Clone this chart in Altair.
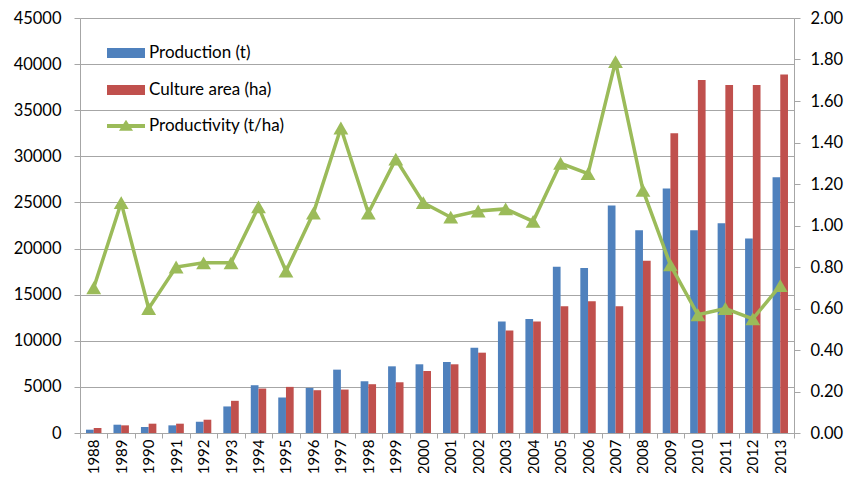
import altair as alt
import pandas as pd

years = [str(y) for y in range(1988, 2014)]
production = [360, 900, 650, 830, 1220, 2880, 5180, 3850, 4890, 6870, 5610, 7230, 7450,
              7700, 9250, 12090, 12370, 18020, 17900, 24680, 21980, 26510, 21980, 22740,
              21080, 27730]
area = [540, 830, 1010, 1010, 1440, 3490, 4820, 5000, 4640, 4710, 5290, 5500, 6720,
        7450, 8710, 11110, 12090, 13740, 14280, 13740, 18670, 32510, 38270, 37730,
        37730, 38880]
productivity = [0.70, 1.11, 0.60, 0.80, 0.82, 0.82, 1.09, 0.78, 1.06, 1.47, 1.06, 1.32,
                1.11, 1.04, 1.07, 1.08, 1.02, 1.30, 1.25, 1.79, 1.17, 0.81, 0.57, 0.60,
                0.55, 0.71]
bar_series = ["Production (t)", "Culture area (ha)"]
line_series = "Productivity (t/ha)"
left_ticks = list(range(0, 45001, 5000))
right_ticks = [round(i * 0.2, 2) for i in range(11)]

bars_df = pd.DataFrame(
    [{"year": y, "series": bar_series[0], "value": v} for y, v in zip(years, production)]
    + [{"year": y, "series": bar_series[1], "value": v} for y, v in zip(years, area)]
)
line_df = pd.DataFrame({"year": years, "value": productivity,
                        "series": [line_series] * len(years)})

FONT = "Lato"
GRID = "#A6A6A6"
BLUE, RED, GREEN = "#4F81BD", "#C0504D", "#9BBB59"

rect_path = "M-1,-0.263H1V0.263H-1Z"
line_path = "M-1,-0.1H1V0.1H-1Z M-0.37,0.25L0,-0.33L0.37,0.25Z"

x_enc = alt.X("year:N", sort=years, title=None,
              scale=alt.Scale(paddingInner=0, paddingOuter=0),
              axis=alt.Axis(labelAngle=270, labelFontSize=15, labelFont=FONT,
                            labelColor="#000000", tickBand="extent", tickSize=5,
                            tickColor=GRID, domainColor=GRID, labelPadding=1,
                            grid=False))

bars = alt.Chart(bars_df).mark_bar().encode(
    x=x_enc,
    xOffset=alt.XOffset("series:N", sort=bar_series,
                        scale=alt.Scale(paddingInner=0, paddingOuter=0.78)),
    y=alt.Y("value:Q", title=None,
            scale=alt.Scale(domain=[0, 45000], nice=False),
            axis=alt.Axis(orient="left", values=left_ticks, format="d",
                          labelFontSize=16.5, labelFont=FONT, labelColor="#000000",
                          grid=True, gridColor=GRID, tickColor=GRID, domainColor=GRID,
                          tickSize=6, labelPadding=13)),
    color=alt.Color("series:N", sort=bar_series,
                    scale=alt.Scale(domain=bar_series, range=[BLUE, RED]),
                    legend=alt.Legend(orient="none", legendX=27, legendY=16, title=None,
                                      symbolType=rect_path, symbolSize=1444,
                                      symbolStrokeWidth=0, labelFontSize=17,
                                      labelFont=FONT, labelColor="#000000",
                                      rowPadding=10, padding=0, labelOffset=4)),
)

right_axis = alt.Axis(orient="right", values=right_ticks, format=".2f",
                      labelFontSize=16.5, labelFont=FONT, labelColor="#000000",
                      grid=False, tickColor=GRID, domainColor=GRID, tickSize=6,
                      labelPadding=10)
y2 = alt.Y("value:Q", title=None, scale=alt.Scale(domain=[0, 2], nice=False),
           axis=right_axis)

line = alt.Chart(line_df).mark_line(strokeWidth=3.5, color=GREEN).encode(
    x=x_enc, y=y2)
points = alt.Chart(line_df).mark_point(shape="triangle-up", size=220, filled=True,
                                       opacity=1).encode(
    x=x_enc, y=y2,
    color=alt.Color("series:N",
                    scale=alt.Scale(domain=[line_series], range=[GREEN]),
                    legend=alt.Legend(orient="none", legendX=27, legendY=89, title=None,
                                      symbolType=line_path, symbolSize=1444,
                                      symbolStrokeWidth=0, labelFontSize=17,
                                      labelFont=FONT, labelColor="#000000",
                                      rowPadding=0, padding=0, labelOffset=4)),
)

lp = alt.layer(line, points)

chart = alt.layer(bars, lp).resolve_scale(y="independent", color="independent").properties(
    width=714, height=415,
    autosize=alt.AutoSizeParams(type="none"),
    padding={"left": 72, "top": 10, "right": 58, "bottom": 40},
).configure_view(stroke=None).configure(background="white")

chart.save("out.html", embed_options={"renderer": "svg", "actions": False})
